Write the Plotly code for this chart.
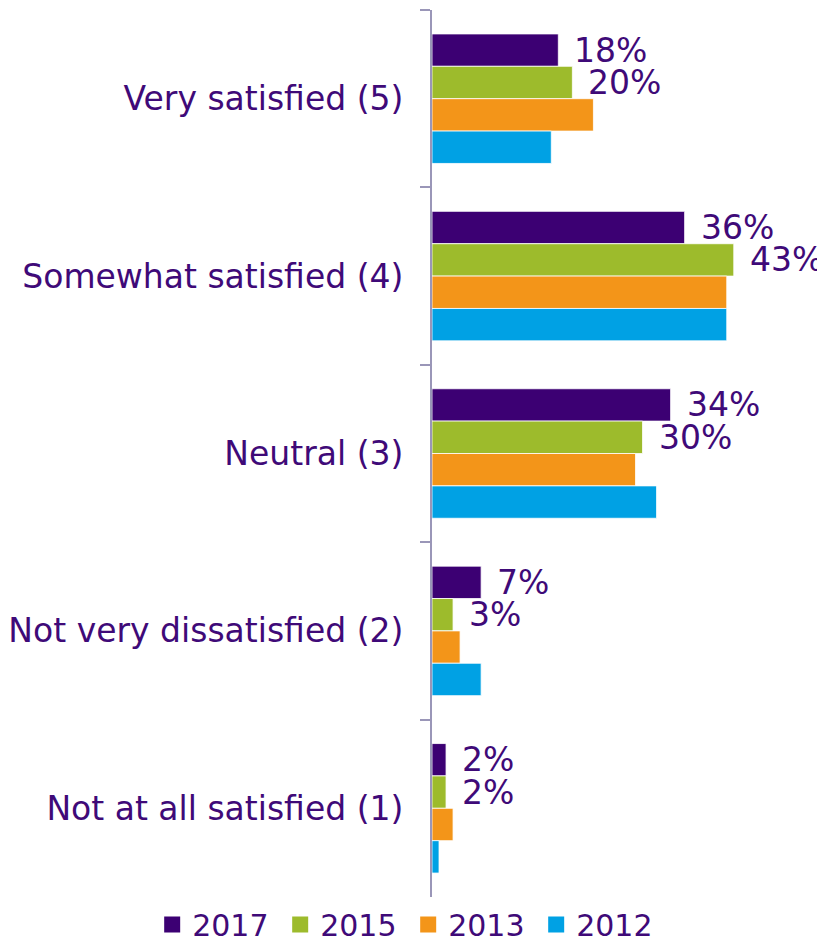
import plotly.graph_objects as go

categories = ["Very satisfied (5)", "Somewhat satisfied (4)", "Neutral (3)",
              "Not very dissatisfied (2)", "Not at all satisfied (1)"]
years = ["2017", "2015", "2013", "2012"]
v2017 = [18, 36, 34, 7, 2]
v2015 = [20, 43, 30, 3, 2]
v2013 = [23, 42, 29, 4, 3]
v2012 = [17, 42, 32, 7, 1]
labelled_years = ["2017", "2015"]

colors = {"2017": "#3C0073", "2015": "#9DBB2C", "2013": "#F39519", "2012": "#00A1E4"}
values = {"2017": v2017, "2015": v2015, "2013": v2013, "2012": v2012}

TXT = "#3F0A78"
FONT = "DejaVu Sans"
AXC = "#9A96B8"
BARGAP = 0.27

fig = go.Figure()
for yr in years:
    fig.add_trace(go.Bar(
        y=categories, x=values[yr], orientation="h", name=yr,
        marker=dict(color=colors[yr], line=dict(color="white", width=0.8)),
        showlegend=False, legendgroup=yr,
    ))
# legend entries (larger square swatches)
for yr in years:
    fig.add_trace(go.Scatter(
        x=[None], y=[None], mode="markers", name=yr, legendgroup=yr,
        marker=dict(symbol="square", size=16, color=colors[yr]),
        showlegend=True,
    ))

# value labels for labelled series
n = len(years)
w = (1 - BARGAP) / n
annotations = []
for yr in labelled_years:
    i = years.index(yr)
    off = -(1 - BARGAP) / 2 + w * (i + 0.5)
    for k, v in enumerate(values[yr]):
        annotations.append(dict(
            x=v, y=k + off, xref="x", yref="y", text=f"{v}%",
            showarrow=False, xanchor="left", yanchor="middle", xshift=14,
            font=dict(family=FONT, size=33, color=TXT),
        ))

fig.update_layout(
    width=817, height=937,
    margin=dict(l=424, r=0, t=2, b=48, autoexpand=False),
    paper_bgcolor="white", plot_bgcolor="white",
    barmode="group", bargap=BARGAP, bargroupgap=0,
    font=dict(family=FONT, size=33, color=TXT),
    annotations=annotations,
    legend=dict(
        orientation="h", xref="paper", yref="paper",
        x=-0.712, y=-0.031, xanchor="left", yanchor="middle",
        font=dict(family=FONT, size=30, color=TXT),
        entrywidth=83, entrywidthmode="pixels",
        traceorder="normal", itemclick=False,
    ),
    xaxis=dict(range=[0, 56], visible=False, showgrid=False, zeroline=False),
    yaxis=dict(
        autorange="reversed", categoryorder="array", categoryarray=categories,
        showline=True, linecolor=AXC, linewidth=2,
        ticks="outside", ticklen=10, tickcolor=AXC, tickwidth=2,
        tickson="boundaries", showgrid=False,
        ticklabelstandoff=20,
        tickfont=dict(family=FONT, size=33, color=TXT),
    ),
)

fig.write_html("out.html")
